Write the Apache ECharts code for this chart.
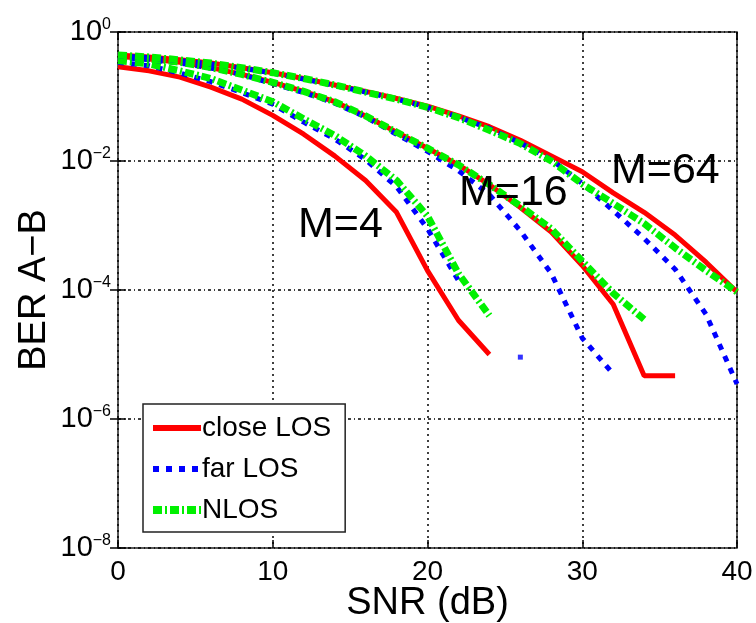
<!DOCTYPE html>
<html>
<head>
<meta charset="utf-8">
<script src="https://cdn.jsdelivr.net/npm/echarts@6/dist/echarts.min.js"></script>
<style>
  html, body { margin: 0; padding: 0; background: #fff; }
  #chart { width: 756px; height: 623px; }
</style>
</head>
<body>
<div id="chart"></div>
<script>
// SNR grids (dB) for each modulation order
var snrM4 = [0, 2, 4, 6, 8, 10, 12, 14, 16, 18, 20, 22, 24]
var snrM16 = [0, 2, 4, 6, 8, 10, 12, 14, 16, 18, 20, 22, 24, 26, 28, 30, 32, 34, 36]
var snrM64 = [0, 2, 4, 6, 8, 10, 12, 14, 16, 18, 20, 22, 24, 26, 28, 30, 32, 34, 36, 38, 40]

// BER A-B
var closeM4 = [0.29, 0.25, 0.2, 0.14, 0.091, 0.051, 0.026, 0.012, 0.005, 0.0016, 2.0e-4, 3.4e-5, 1.0e-5]
var farM4 = [0.34, 0.3, 0.23, 0.17, 0.115, 0.076, 0.04, 0.022, 0.0105, 0.004, 8.9e-4, 1.4e-4, null]
var nlosM4 = [0.36, 0.32, 0.25, 0.19, 0.126, 0.083, 0.045, 0.025, 0.012, 0.005, 0.0014, 1.8e-4, 4.0e-5]
// lone far LOS fragment past the M=4 curve
var farM4DotSnr = [26]
var farM4DotBer = [9.1e-6]

var closeM16 = [0.42, 0.38, 0.34, 0.28, 0.22, 0.166, 0.12, 0.083, 0.05, 0.028, 0.0158, 0.0087, 0.0043, 0.0019, 7.9e-4, 2.4e-4, 6.0e-5, 4.7e-6, 4.7e-6]
var farM16 = [0.41, 0.37, 0.33, 0.275, 0.219, 0.158, 0.115, 0.079, 0.048, 0.026, 0.0141, 0.0071, 0.003, 8.3e-4, 1.8e-4, 1.8e-5, 5.0e-6, null, null]
var nlosM16 = [0.42, 0.38, 0.34, 0.28, 0.22, 0.166, 0.12, 0.083, 0.05, 0.028, 0.0158, 0.0087, 0.0043, 0.002, 8.9e-4, 2.8e-4, 8.9e-5, 3.5e-5, null]

var closeM64 = [0.44, 0.41, 0.37, 0.33, 0.28, 0.234, 0.19, 0.151, 0.12, 0.093, 0.071, 0.05, 0.034, 0.021, 0.012, 0.0068, 0.0032, 0.0016, 7.1e-4, 2.7e-4, 9.3e-5]
var farM64 = [0.43, 0.4, 0.36, 0.32, 0.275, 0.23, 0.186, 0.148, 0.117, 0.091, 0.068, 0.048, 0.032, 0.019, 0.0105, 0.0045, 0.0017, 6.3e-4, 2.1e-4, 4.2e-5, 3.5e-6]
var nlosM64 = [0.44, 0.41, 0.37, 0.33, 0.28, 0.234, 0.19, 0.151, 0.117, 0.091, 0.068, 0.047, 0.03, 0.0186, 0.01, 0.0044, 0.0022, 0.00107, 4.5e-4, 2.0e-4, 9.3e-5]

var xTicks = [0, 10, 20, 30, 40]
var yExponents = [0, -2, -4, -6, -8]
var legendNames = ['close LOS', 'far LOS', 'NLOS']

var FONT = 'Liberation Sans, Arial, sans-serif'

function pairs(xs, ys) {
  return xs.map(function (x, i) { return [x, ys[i]] })
}

var styles = {
  'close LOS': { color: '#ff0000', width: 5, type: 'solid' },
  'far LOS': { color: '#0000ff', width: 5, type: [6, 7] },
  'NLOS': { color: '#00f000', width: 7, type: [9, 3, 2, 3] }
}

function curve(name, xs, ys) {
  var s = styles[name]
  return {
    name: name,
    type: 'line',
    data: pairs(xs, ys),
    symbol: 'none',
    connectNulls: false,
    lineStyle: { color: s.color, width: s.width, type: s.type, cap: 'butt' },
    itemStyle: { color: s.color },
    animation: false
  }
}

var series = [
  curve('close LOS', snrM4, closeM4),
  curve('far LOS', snrM4, farM4),
  curve('NLOS', snrM4, nlosM4),
  curve('close LOS', snrM16, closeM16),
  curve('far LOS', snrM16, farM16),
  curve('NLOS', snrM16, nlosM16),
  curve('close LOS', snrM64, closeM64),
  curve('far LOS', snrM64, farM64),
  curve('NLOS', snrM64, nlosM64),
  {
    name: 'far LOS dot',
    type: 'scatter',
    data: pairs(farM4DotSnr, farM4DotBer),
    symbol: 'rect',
    symbolSize: 5,
    itemStyle: { color: '#0000ff' },
    animation: false
  }
]

var supLabel = function (v) {
  var e = Math.round(Math.log10(v))
  if (yExponents.indexOf(e) < 0) return ''
  return '{b|10}{s|' + (e < 0 ? '\u2212' + (-e) : e) + '}'
}

var tickCommon = { show: true, inside: true, length: 8, lineStyle: { color: '#000', width: 1.5 } }

var legendData = legendNames.map(function (n) {
  var s = styles[n]
  return {
    name: n,
    itemStyle: { opacity: 0 },
    lineStyle: { color: s.color, width: s.width + 1, type: s.type, opacity: 1 }
  }
})

var option = {
  backgroundColor: '#fff',
  animation: false,
  grid: {
    left: 118, right: 19, top: 32, bottom: 75,
    outerBoundsMode: 'none',
    containLabel: false,
    show: true, borderColor: '#222', borderWidth: 1.5, backgroundColor: 'transparent'
  },
  legend: {
    data: legendData,
    orient: 'vertical',
    left: 143, top: 404,
    padding: [10, 14, 8, 6],
    itemGap: 13,
    itemWidth: 48,
    itemHeight: 12,
    backgroundColor: '#fff',
    borderColor: '#222',
    borderWidth: 1.5,
    borderRadius: 0,
    textStyle: { fontFamily: FONT, fontSize: 28, color: '#000', padding: [0, 0, 0, -4] }
  },
  xAxis: [{
    type: 'value',
    min: 0, max: 40, interval: 10,
    name: 'SNR (dB)',
    nameLocation: 'middle',
    nameGap: 37,
    nameMoveOverlap: false,
    nameTextStyle: { fontFamily: FONT, fontSize: 38, color: '#000', verticalAlign: 'top' },
    axisLine: { show: false },
    axisTick: tickCommon,
    axisLabel: {
      fontFamily: FONT, fontSize: 28, color: '#000', margin: 10,
      formatter: function (v) { return xTicks.indexOf(v) >= 0 ? String(v) : '' }
    },
    splitLine: { show: true, lineStyle: { color: '#000', width: 1.5, type: [2, 4] } }
  }, {
    type: 'value', position: 'top',
    min: 0, max: 40, interval: 10,
    axisLine: { show: false }, axisTick: tickCommon,
    axisLabel: { show: false }, splitLine: { show: false }
  }],
  yAxis: [{
    type: 'log',
    logBase: 10,
    min: 1e-8, max: 1,
    interval: 2,
    name: 'BER A\u2212B',
    nameLocation: 'middle',
    nameGap: 64,
    nameMoveOverlap: false,
    nameTextStyle: { fontFamily: FONT, fontSize: 38, color: '#000' },
    axisLine: { show: false },
    axisTick: tickCommon,
    minorTick: { show: false },
    axisLabel: {
      margin: 7,
      formatter: supLabel,
      rich: {
        b: { fontFamily: FONT, fontSize: 29, color: '#000', lineHeight: 30 },
        s: { fontFamily: FONT, fontSize: 16, color: '#000', verticalAlign: 'top', lineHeight: 30, padding: [0, 0, 14, 0] }
      }
    },
    splitLine: { show: true, lineStyle: { color: '#000', width: 1.5, type: [3, 3, 1, 3] } }
  }, {
    type: 'log', logBase: 10, position: 'right',
    min: 1e-8, max: 1, interval: 2,
    axisLine: { show: false }, axisTick: tickCommon,
    axisLabel: { show: false }, splitLine: { show: false }
  }],
  graphic: [
    { type: 'text', left: 298, top: 204, style: { text: 'M=4', font: '43px ' + FONT, fill: '#000' }, z: 100 },
    { type: 'text', left: 459, top: 172, style: { text: 'M=16', font: '43px ' + FONT, fill: '#000' }, z: 100 },
    { type: 'text', left: 611, top: 150, style: { text: 'M=64', font: '43px ' + FONT, fill: '#000' }, z: 100 }
  ],
  series: series
}

var chart = echarts.init(document.getElementById('chart'))
chart.setOption(option)
</script>
</body>
</html>
